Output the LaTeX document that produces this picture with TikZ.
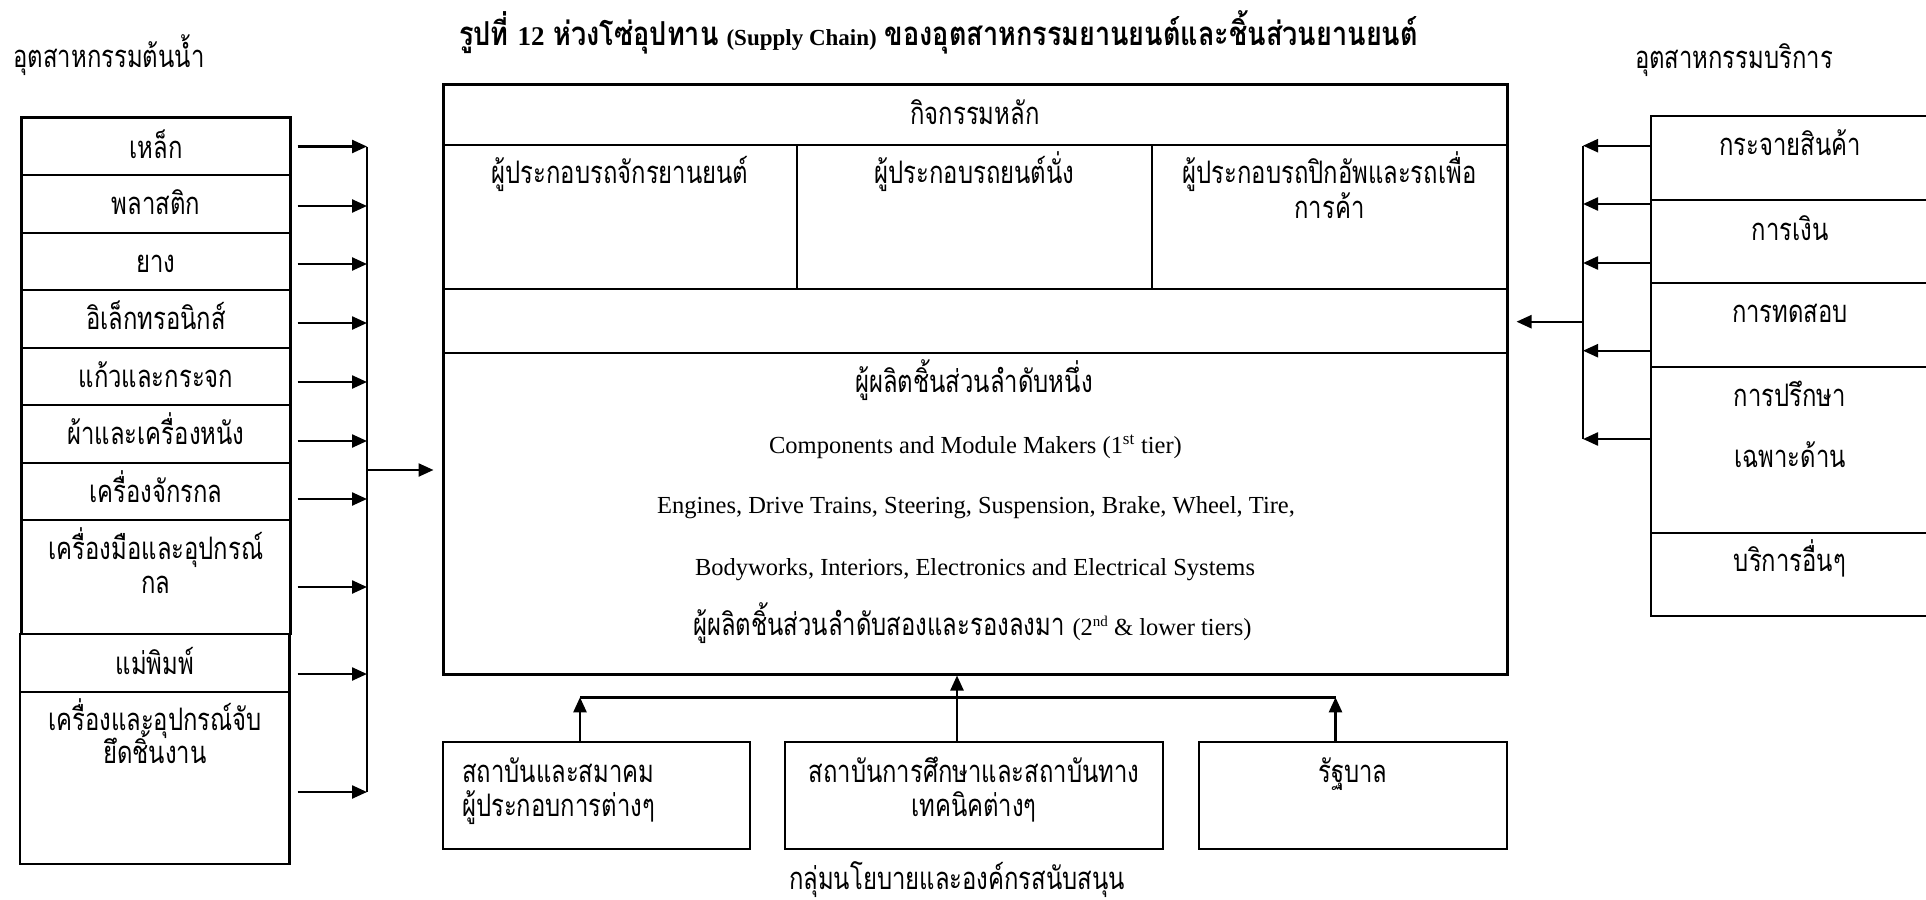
\documentclass[tikz,border=0pt]{standalone}
\usepackage{fontspec}
\setmainfont{Liberation Serif}
\newfontfamily\thai[Script=Thai,FakeStretch=0.77]{Loma}
\newfontfamily\thaiw[Script=Thai,FakeStretch=0.82]{Loma}
\usetikzlibrary{arrows.meta}
\newcommand\thaiT{\thai\fontsize{31pt}{35pt}\selectfont}
\newcommand\thaiH{\thaiw\bfseries\fontsize{33pt}{38pt}\selectfont}
\newcommand\engT{\rmfamily\fontsize{24.5pt}{30pt}\selectfont}
\tikzset{
  box/.style={draw, line width=2.2pt, inner sep=0pt, outer sep=0pt},
  txt/.style={anchor=base, inner sep=0pt, font=\thaiT},
  eng/.style={anchor=base, inner sep=0pt, font=\engT},
  arr/.style={line width=2.4pt, -{Triangle[length=15pt,width=13pt]}},
  lin/.style={line width=2.4pt},
}
\begin{document}
\begin{tikzpicture}[x=1pt,y=-1pt]
\clip (0,0) rectangle (1926,899);
\fill[white] (0,0) rectangle (1926,899);

% title and headers
\node[anchor=base, inner sep=0pt] (title) at (938.5,46)
  {{\thaiH รูปที่}\hspace{9pt}{\bfseries\fontsize{27pt}{30pt}\selectfont 12}\hspace{9pt}{\thaiH ห่วงโซ่อุปทาน}\hspace{8pt}{\bfseries\fontsize{23pt}{27pt}\selectfont (Supply Chain)}\hspace{8pt}{\thaiH ของอุตสาหกรรมยานยนต์และชิ้นส่วนยานยนต์}};
\node[txt] (hl) at (109,67) {อุตสาหกรรมต้นน้ำ};
\node[txt] (hr) at (1734,69) {อุตสาหกรรมบริการ};

% left column boxes
\node[box, minimum width=269pt, minimum height=57.5pt] (L1) at (156,146.25) {};
\node[box, minimum width=269pt, minimum height=57.7pt] (L2) at (156,203.85) {};
\node[box, minimum width=269pt, minimum height=57.3pt] (L3) at (156,261.35) {};
\node[box, minimum width=269pt, minimum height=57.7pt] (L4) at (156,318.85) {};
\node[box, minimum width=269pt, minimum height=57.3pt] (L5) at (156,376.35) {};
\node[box, minimum width=269pt, minimum height=57.7pt] (L6) at (156,433.85) {};
\node[box, minimum width=269pt, minimum height=57.3pt] (L7) at (156,491.35) {};
\node[box, minimum width=269pt, minimum height=114.3pt] (L8) at (156,577.15) {};
\node[box, minimum width=269.5pt, minimum height=57.7pt] (L9) at (154.75,663.15) {};
\node[box, minimum width=269.5pt, minimum height=172.3pt] (L10) at (154.75,778.15) {};
\node[txt] (L1t) at (156,158.5) {เหล็ก};
\node[txt] (L2t) at (156,214.5) {พลาสติก};
\node[txt] (L3t) at (156,272) {ยาง};
\node[txt] (L4t) at (156,329.5) {อิเล็กทรอนิกส์};
\node[txt] (L5t) at (156,387) {แก้วและกระจก};
\node[txt] (L6t) at (156,444.5) {ผ้าและเครื่องหนัง};
\node[txt] (L7t) at (156,502) {เครื่องจักรกล};
\node[txt] (L8t) at (156,559.3) {เครื่องมือและอุปกรณ์};
\node[txt] (L8u) at (156,593.3) {กล};
\node[txt] (L9t) at (155,674) {แม่พิมพ์};
\node[txt] (L10t) at (155,730) {เครื่องและอุปกรณ์จับ};
\node[txt] (L10u) at (155,763.3) {ยึดชิ้นงาน};

% left arrows
\coordinate (lbT) at (367,146.5);
\coordinate (lbB) at (367,792);
\coordinate (la1) at (297.7,146.5);
\coordinate (la2) at (297.7,206);
\coordinate (la3) at (297.7,264);
\coordinate (la4) at (297.7,323);
\coordinate (la5) at (297.7,382);
\coordinate (la6) at (297.7,441);
\coordinate (la7) at (297.7,499);
\coordinate (la8) at (297.7,587);
\coordinate (la9) at (297.7,674);
\coordinate (la10) at (297.7,792);
\foreach \i in {1,...,10} {\draw[arr] (la\i) -- (la\i -| lbT);}
\draw[lin] (lbT) -- (lbB);

% main box
\node[box, minimum width=1064pt, minimum height=61pt] (H) at (975,114.5) {};
\node[box, minimum width=354.3pt, minimum height=144pt] (S1) at (620.15,217) {};
\node[box, minimum width=354.7pt, minimum height=144pt] (S2) at (974.65,217) {};
\node[box, minimum width=355pt, minimum height=144pt] (S3) at (1329.5,217) {};
\node[box, minimum width=1064pt, minimum height=64.3pt] (Bd) at (975,321.15) {};
\node[box, minimum width=1064pt, minimum height=320.7pt] (C) at (975,513.65) {};
\node[draw, line width=3pt, inner sep=0pt, minimum width=1064pt, minimum height=590pt] (M) at (975,379) {};
\node[txt] (Ht) at (975,124.5) {กิจกรรมหลัก};
\node[txt] (S1t) at (620,183) {ผู้ประกอบรถจักรยานยนต์};
\node[txt] (S2t) at (974.5,183) {ผู้ประกอบรถยนต์นั่ง};
\node[txt] (S3t) at (1329.5,183) {ผู้ประกอบรถปิกอัพและรถเพื่อ};
\node[txt] (S3u) at (1329.5,218) {การค้า};
\node[txt] (C1) at (974,392.5) {ผู้ผลิตชิ้นส่วนลำดับหนึ่ง};
\node[eng] (C2) at (975.5,453.3) {Components and Module Makers (1\textsuperscript{st} tier)};
\node[eng] (C3) at (976,513.3) {Engines, Drive Trains, Steering, Suspension, Brake, Wheel, Tire,};
\node[eng] (C4) at (975,575) {Bodyworks, Interiors, Electronics and Electrical Systems};
\node[txt] (C5) at (972.4,635) {ผู้ผลิตชิ้นส่วนลำดับสองและรองลงมา {\engT(2{\fontsize{15pt}{15pt}\selectfont\raisebox{9pt}{nd}} \& lower tiers)}};

% right column boxes
\node[box, minimum width=278pt, minimum height=84pt] (R1) at (1790,158) {};
\node[box, minimum width=278pt, minimum height=83pt] (R2) at (1790,241.5) {};
\node[box, minimum width=278pt, minimum height=83.7pt] (R3) at (1790,324.85) {};
\node[box, minimum width=278pt, minimum height=166.6pt] (R4) at (1790,450) {};
\node[box, minimum width=278pt, minimum height=82.7pt] (R5) at (1790,574.65) {};
\node[txt] (R1t) at (1790,155) {กระจายสินค้า};
\node[txt] (R2t) at (1790,240) {การเงิน};
\node[txt] (R3t) at (1790,322.5) {การทดสอบ};
\node[txt] (R4t) at (1790,406) {การปรึกษา};
\node[txt] (R4u) at (1790,467.5) {เฉพาะด้าน};
\node[txt] (R5t) at (1790,571) {บริการอื่นๆ};

% right arrows
\coordinate (rbT) at (1583,145.7);
\coordinate (rbB) at (1583,439);
\coordinate (ra1) at (1651,145.7);
\coordinate (ra2) at (1651,204);
\coordinate (ra3) at (1651,263);
\coordinate (ra4) at (1651,350.7);
\coordinate (ra5) at (1651,439);
\foreach \i in {1,...,5} {\draw[arr] (ra\i) -- (ra\i -| rbT);}
\draw[lin] (rbT) -- (rbB);

% arrows into main box
\coordinate (lm) at (367,470);
\draw[arr] (lm) -- ([xshift=-8pt]M.west |- lm);
\coordinate (rm) at (1583,321.7);
\draw[arr] (rm) -- ([xshift=8pt]M.east |- rm);

% bottom boxes
\node[box, minimum width=307pt, minimum height=107pt] (B1) at (596.5,795.5) {};
\node[box, minimum width=378pt, minimum height=107pt] (B2) at (974,795.5) {};
\node[box, minimum width=308pt, minimum height=107pt] (B3) at (1353,795.5) {};
\node[txt, anchor=base west] (B1t) at (462,782) {สถาบันและสมาคม};
\node[txt, anchor=base west] (B1u) at (462,816) {ผู้ประกอบการต่างๆ};
\node[txt] (B2t) at (974,782) {สถาบันการศึกษาและสถาบันทาง};
\node[txt] (B2u) at (974,816) {เทคนิคต่างๆ};
\node[txt] (B3t) at (1353,782) {รัฐบาล};
\node[txt] (foot) at (957,889) {กลุ่มนโยบายและองค์กรสนับสนุน};

% bottom arrows
\coordinate (bl) at (580,697.3);
\coordinate (bm) at (957,697.3);
\coordinate (br) at (1335.5,697.3);
\draw[lin] (bl) -- (br);
\draw[arr] (bl |- B1.north) -- (bl);
\draw[arr] (br |- B3.north) -- (br);
\draw[arr] (bm |- B2.north) -- (bm |- M.south);
\end{tikzpicture}
\end{document}
